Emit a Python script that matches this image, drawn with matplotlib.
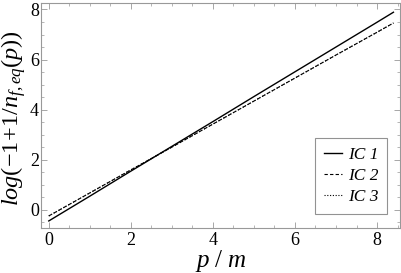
import matplotlib
matplotlib.use("Agg")
import matplotlib.pyplot as plt
import numpy as np
from matplotlib.ticker import MultipleLocator

plt.rcParams['font.family'] = ['Liberation Serif', 'DejaVu Serif']
plt.rcParams['mathtext.fontset'] = 'custom'
plt.rcParams['mathtext.it'] = 'Liberation Serif:italic'
plt.rcParams['mathtext.rm'] = 'Liberation Serif'
plt.rcParams['mathtext.cal'] = 'Liberation Serif:italic'

# data
p_vals = [0.0, 1.0, 2.0, 3.0, 4.0, 5.0, 6.0, 7.0, 8.0, 8.4]
ic1 = [-0.45, 0.54, 1.54, 2.53, 3.52, 4.52, 5.51, 6.50, 7.49, 7.89]
ic2 = [-0.25, 0.67, 1.59, 2.50, 3.42, 4.34, 5.26, 6.18, 7.09, 7.46]
ic3 = [-0.25, 0.67, 1.59, 2.50, 3.42, 4.34, 5.26, 6.18, 7.09, 7.46]
labels = ['IC 1', 'IC 2', 'IC 3']

fig = plt.figure(figsize=(4.01, 2.73), dpi=100)
ax = fig.add_axes([0.1022, 0.165, 0.8953, 0.825])

ax.plot(p_vals, ic1, color='black', lw=1.0, ls='-', label=labels[0])
ax.plot(p_vals, ic2, color='black', lw=0.8, ls=(0, (3, 2)), label=labels[1])
ax.plot(p_vals, ic3, color='black', lw=0.8, ls=(0, (1, 1.5)), label=labels[2])

ax.set_xlim(-0.19, 8.56)
ax.set_ylim(-0.73, 8.27)
ax.xaxis.set_major_locator(MultipleLocator(2))
ax.xaxis.set_minor_locator(MultipleLocator(0.5))
ax.yaxis.set_major_locator(MultipleLocator(2))
ax.yaxis.set_minor_locator(MultipleLocator(0.5))
ax.tick_params(which='both', direction='in', top=True, right=True, color='#999999',
               labelsize=13)
ax.tick_params(axis='x', which='major', pad=3)
ax.tick_params(axis='y', which='major', pad=1.5)
ax.tick_params(which='major', length=4, width=0.6)
ax.tick_params(which='minor', length=2, width=0.5)
for s in ax.spines.values():
    s.set_color('#999999')
    s.set_linewidth(0.8)

ax.set_xlabel(r'$p\ /\ m$', fontsize=18)
ax.xaxis.set_label_coords(0.50, -0.09, transform=ax.transAxes)
ax.xaxis.label.set_va('top')
ax.set_ylabel(r'$log(-1\!+\!1/n_{f,eq}(p))$', fontsize=17.5)
ax.yaxis.set_label_coords(-0.075, 0.49, transform=ax.transAxes)
ax.yaxis.label.set_va('center')

leg = ax.legend(loc='lower right', bbox_to_anchor=(0.964, 0.062), borderaxespad=0,
                prop={'family': 'Liberation Serif', 'style': 'italic', 'size': 12.5},
                frameon=True, fancybox=False, edgecolor='#777777',
                handlelength=1.05, borderpad=0.5, labelspacing=0.3, handletextpad=0.35)
leg.get_frame().set_linewidth(0.8)

fig.savefig('out.png', dpi=100)
